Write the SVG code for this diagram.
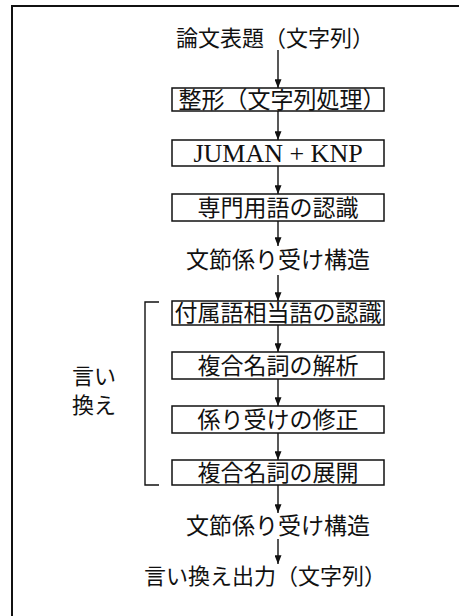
<svg xmlns="http://www.w3.org/2000/svg" width="459" height="616" viewBox="0 0 459 616">
<style>
.jp{font-family:"Noto Sans CJK JP","Noto Sans CJK SC",sans-serif;font-size:23px;fill:#111;}
.t22{font-size:22px;}
.mid{text-anchor:middle;}
.serif{font-family:"Liberation Serif",serif;font-size:26px;fill:#111;text-anchor:middle;}
.box{fill:#fff;stroke:#111;stroke-width:1.5;}
.ln{fill:none;stroke:#111;stroke-width:1.4;}
.frame{fill:none;stroke:#111;stroke-width:2;}
</style>
<defs>
<marker id="ah" viewBox="0 0 10 8" refX="10" refY="4" markerWidth="9" markerHeight="7" markerUnits="userSpaceOnUse" orient="auto">
<path d="M0,0 L10,4 L0,8 z" fill="#111"/>
</marker>
</defs>
<rect width="459" height="616" fill="#fff"/>
<path class="frame" d="M459,6 H12 V616"/>
<g id="connectors">
<line class="ln" x1="278" y1="50" x2="278" y2="88" marker-end="url(#ah)"/>
<line class="ln" x1="278" y1="111" x2="278" y2="140" marker-end="url(#ah)"/>
<line class="ln" x1="278" y1="166" x2="278" y2="194" marker-end="url(#ah)"/>
<line class="ln" x1="278" y1="221" x2="278" y2="246" marker-end="url(#ah)"/>
<line class="ln" x1="278" y1="275" x2="278" y2="301" marker-end="url(#ah)"/>
<line class="ln" x1="278" y1="325" x2="278" y2="352" marker-end="url(#ah)"/>
<line class="ln" x1="278" y1="379" x2="278" y2="406" marker-end="url(#ah)"/>
<line class="ln" x1="278" y1="433" x2="278" y2="460" marker-end="url(#ah)"/>
<line class="ln" x1="278" y1="485" x2="278" y2="513" marker-end="url(#ah)"/>
<line class="ln" x1="278" y1="539" x2="278" y2="564" marker-end="url(#ah)"/>
</g>
<g id="title"><text class="jp t22 mid" x="275" y="46">論文表題（文字列）</text></g>
<g id="n1"><rect class="box" x="172" y="88" width="212" height="23"/><text class="jp mid" x="282" y="108">整形（文字列処理）</text></g>
<g id="n2"><rect class="box" x="172" y="140" width="212" height="26"/><text class="serif" x="278" y="162">JUMAN + KNP</text></g>
<g id="n3"><rect class="box" x="172" y="194" width="212" height="27"/><text class="jp mid" x="278" y="216">専門用語の認識</text></g>
<g id="s1"><text class="jp mid" x="278" y="268">文節係り受け構造</text></g>
<g id="bracket"><path class="ln" d="M159,302 H145 V485 H159"/><text class="jp t22" x="72" y="384">言い</text><text class="jp t22" x="72" y="413">換え</text></g>
<g id="n4"><rect class="box" x="172" y="301" width="212" height="24"/><text class="jp mid" x="278" y="321">付属語相当語の認識</text></g>
<g id="n5"><rect class="box" x="172" y="352" width="212" height="27"/><text class="jp mid" x="278" y="374">複合名詞の解析</text></g>
<g id="n6"><rect class="box" x="172" y="406" width="212" height="27"/><text class="jp mid" x="278" y="428">係り受けの修正</text></g>
<g id="n7"><rect class="box" x="172" y="460" width="212" height="25"/><text class="jp mid" x="278" y="481">複合名詞の展開</text></g>
<g id="s2"><text class="jp mid" x="278" y="534">文節係り受け構造</text></g>
<g id="out"><text class="jp t22 mid" x="265" y="584">言い換え出力（文字列）</text></g>
</svg>
